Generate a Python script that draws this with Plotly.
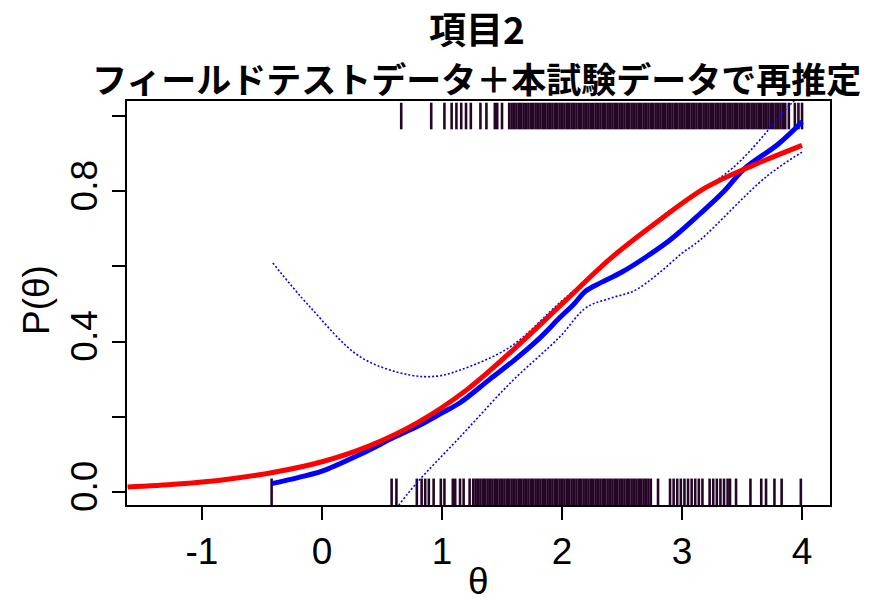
import plotly.graph_objects as go

# ---- data ----
red_theta = [-1.62, -1.2, -0.8, -0.4, 0.0, 0.4, 0.8, 1.2, 1.6, 2.0, 2.4, 2.8, 3.2, 3.6, 4.0]
red_p = [0.013, 0.021, 0.033, 0.052, 0.080, 0.123, 0.185, 0.27, 0.38, 0.50, 0.62, 0.72, 0.81, 0.87, 0.922]

blue_theta = [-0.42, -0.2, 0.0, 0.32, 0.6, 0.8, 1.0, 1.15, 1.4, 1.6, 1.8, 1.98, 2.1, 2.2, 2.32, 2.5, 2.7, 2.9, 3.15, 3.35, 3.52, 3.8, 4.0]
blue_p = [0.022, 0.038, 0.055, 0.10, 0.145, 0.175, 0.21, 0.237, 0.30, 0.35, 0.405, 0.463, 0.50, 0.535, 0.556, 0.585, 0.625, 0.67, 0.74, 0.80, 0.86, 0.925, 0.985]

upper_theta = [-0.41, -0.1, 0.32, 0.73, 0.96, 1.15, 1.57, 1.98, 2.3, 2.87, 3.43, 3.9, 4.0]
upper_p = [0.609, 0.492, 0.359, 0.311, 0.308, 0.324, 0.386, 0.503, 0.59, 0.742, 0.864, 1.03, 1.06]

lower_theta = [0.55, 0.63, 0.79, 1.15, 1.57, 1.98, 2.2, 2.4, 2.6, 2.8, 3.0, 3.15, 3.7, 4.0]
lower_p = [-0.08, -0.04, 0.024, 0.146, 0.29, 0.412, 0.49, 0.515, 0.535, 0.58, 0.635, 0.67, 0.838, 0.904]

rug_top = [0.66, 0.91, 1.02, 1.08, 1.12, 1.16, 1.20, 1.24, 1.32, 1.37, 1.44, 1.46, 1.50,
           1.56, 1.58, 1.60, 1.62, 1.64, 1.66, 1.68, 1.70, 1.72, 1.74, 1.76, 1.78, 1.80, 1.82, 1.84, 1.86,
           1.88, 1.90, 1.92, 1.94, 1.96, 1.98, 2.00, 2.02, 2.04, 2.06, 2.08, 2.10, 2.12, 2.14, 2.16, 2.18,
           2.20, 2.22, 2.24, 2.26, 2.28, 2.30, 2.32, 2.34, 2.36, 2.38, 2.40, 2.42, 2.44, 2.46, 2.48, 2.50,
           2.52, 2.54, 2.56, 2.58, 2.60, 2.62, 2.64, 2.66, 2.68, 2.70, 2.72, 2.74, 2.76, 2.78, 2.80, 2.82,
           2.84, 2.86, 2.88, 2.90, 2.92, 2.94, 2.96, 2.98, 3.00, 3.02, 3.04, 3.06, 3.08, 3.10, 3.12, 3.14,
           3.16, 3.18, 3.20, 3.22, 3.24, 3.26, 3.28, 3.30, 3.32, 3.34, 3.36, 3.38, 3.40, 3.42, 3.44, 3.46,
           3.48, 3.50, 3.52, 3.54, 3.56, 3.58, 3.60, 3.62, 3.64, 3.66, 3.68, 3.70, 3.72, 3.74, 3.76, 3.78,
           3.80, 3.82, 3.84, 3.86, 3.89, 3.94, 3.97, 4.00]

rug_bottom = [-0.42, 0.58, 0.62, 0.79, 0.83, 0.86, 0.89, 0.93, 0.99, 1.02, 1.09, 1.11, 1.15, 1.18, 1.23,
              1.26, 1.28, 1.30, 1.32, 1.34, 1.36, 1.38, 1.40, 1.42, 1.44, 1.46, 1.48, 1.50, 1.52, 1.54,
              1.56, 1.58, 1.60, 1.62, 1.64, 1.66, 1.68, 1.70, 1.72, 1.74, 1.76, 1.78, 1.80, 1.82, 1.84,
              1.86, 1.88, 1.90, 1.92, 1.94, 1.96, 1.98, 2.00, 2.02, 2.04, 2.06, 2.08, 2.10, 2.12, 2.14,
              2.16, 2.18, 2.20, 2.22, 2.24, 2.26, 2.28, 2.30, 2.32, 2.34, 2.36, 2.38, 2.40, 2.42, 2.44,
              2.46, 2.48, 2.50, 2.52, 2.54, 2.56, 2.58, 2.60, 2.62, 2.64, 2.66, 2.68, 2.70, 2.72,
              2.74, 2.80, 2.90, 2.93, 2.96, 2.99, 3.02, 3.05, 3.08, 3.11, 3.14, 3.17, 3.23, 3.26, 3.29,
              3.32, 3.35, 3.38, 3.40, 3.45, 3.57, 3.66, 3.70, 3.77, 3.83, 3.99]

x_ticks = [-1, 0, 1, 2, 3, 4]
x_ticktext = ["-1", "0", "1", "2", "3", "4"]
y_ticks = [0.0, 0.2, 0.4, 0.6, 0.8, 1.0]
y_ticktext = ["0.0", "", "0.4", "", "0.8", ""]

title_line1 = "項目2"
title_line2 = "フィールドテストデータ＋本試験データで再推定"
x_label = "θ"
y_label = "P(θ)"

# ---- figure ----
W, H = 884, 605
L, T = 127, 101
R = W - 830
B = H - 505
plot_w = W - L - R
plot_h = H - T - B


def px_x(px):
    return (px - L) / plot_w


def px_y(py):
    return 1 - (py - T) / plot_h


rug_color = "#260626"
fig = go.Figure()

for xs, yv in [(rug_top, 1.0), (rug_bottom, 0.0)]:
    fig.add_trace(go.Scatter(x=xs, y=[yv] * len(xs), mode="markers",
                             marker=dict(symbol="line-ns", size=19, line=dict(width=2.6, color=rug_color)),
                             showlegend=False, hoverinfo="skip"))

for xs, ys in [(upper_theta, upper_p), (lower_theta, lower_p)]:
    fig.add_trace(go.Scatter(x=xs, y=ys, mode="lines",
                             line=dict(color="#0000ff", width=1.6, dash="2px,2px", shape="spline"),
                             showlegend=False))
fig.add_trace(go.Scatter(x=blue_theta, y=blue_p, mode="lines",
                         line=dict(color="#0000ff", width=5, shape="spline"),
                         showlegend=False))
fig.add_trace(go.Scatter(x=red_theta, y=red_p, mode="lines",
                         line=dict(color="#ff0000", width=5, shape="spline"),
                         showlegend=False))

latin = "Liberation Sans, Arial, sans-serif"
cjk = "Noto Sans CJK JP, sans-serif"

fig.update_layout(
    width=W, height=H,
    margin=dict(l=L, r=R, t=T, b=B, autoexpand=False),
    paper_bgcolor="white", plot_bgcolor="white",
    font=dict(family=latin, color="black"),
    xaxis=dict(range=[-1.625, 4.233], tickvals=x_ticks, ticktext=x_ticktext, ticks="outside",
               ticklen=13, tickwidth=1.5, tickcolor="black", showline=True, linecolor="black",
               linewidth=1.5, mirror=True, showgrid=False, zeroline=False, automargin=False,
               tickfont=dict(size=37, family=latin)),
    yaxis=dict(range=[-0.035, 1.04], tickvals=y_ticks, ticktext=y_ticktext, tickangle=-90,
               ticks="outside", ticklen=13, tickwidth=1.5, tickcolor="black",
               showline=True, linecolor="black", linewidth=1.5, mirror=True, automargin=False,
               showgrid=False, zeroline=False, tickfont=dict(size=37, family=latin)),
    annotations=[
        dict(text="<b>" + title_line1 + "</b>", x=px_x(477), y=px_y(28), xref="paper", yref="paper",
             xanchor="center", yanchor="middle", showarrow=False,
             font=dict(size=37, family=cjk, color="black")),
        dict(text="<b>" + title_line2 + "</b>", x=px_x(476), y=px_y(78), xref="paper", yref="paper",
             xanchor="center", yanchor="middle", showarrow=False,
             font=dict(size=35, family=cjk, color="black")),
        dict(text=x_label, x=px_x(478), y=px_y(581), xref="paper", yref="paper",
             xanchor="center", yanchor="middle", showarrow=False,
             font=dict(size=37, family=latin, color="black")),
        dict(text=y_label, x=px_x(36), y=px_y(300), xref="paper", yref="paper",
             xanchor="center", yanchor="middle", showarrow=False, textangle=-90,
             font=dict(size=37, family=latin, color="black")),
    ],
)

# remove the browser's default 8px page margin so the figure sits at the page origin
fig.write_html("out.html", config={"displayModeBar": False},
               post_script="document.body.style.margin='0';document.body.style.overflow='hidden';")
